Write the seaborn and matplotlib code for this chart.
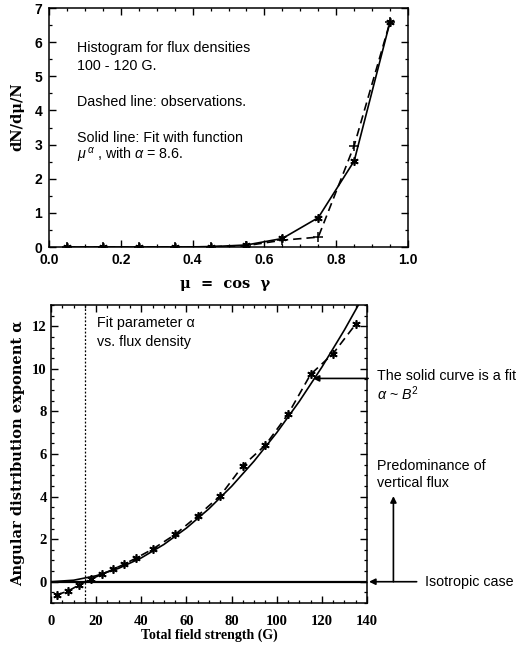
#
# Angular distribution of flux: histogram (top) and fit exponent alpha vs field strength (bottom)
#

import matplotlib
matplotlib.use('Agg')
import matplotlib.pyplot as plt
from matplotlib.ticker import MultipleLocator
import seaborn as sns

#%%
# Data

# top panel: histogram for flux densities 100 - 120 G
mu_bins = [0.05, 0.15, 0.25, 0.35, 0.45, 0.55, 0.65, 0.75, 0.85, 0.95]
fit_hist = [0.0, 0.0, 0.0, 0.001, 0.01, 0.06, 0.25, 0.86, 2.52, 6.60]
obs_hist = [0.0, 0.0, 0.0, 0.0, 0.01, 0.04, 0.20, 0.29, 2.97, 6.60]

# bottom panel: fit parameter alpha vs. flux density
field_obs = [2.5, 7.5, 12.5, 17.5, 22.5, 27.5, 32.5, 37.5, 45, 55, 65, 75,
             85, 95, 105, 115, 125, 135]
alpha_obs = [-0.62, -0.44, -0.15, 0.11, 0.35, 0.58, 0.83, 1.10, 1.53, 2.22,
             3.10, 4.04, 5.45, 6.42, 7.87, 9.74, 10.72, 12.10]
field_fit = [0, 10, 20, 30, 40, 50, 60, 70, 80, 90, 100, 110, 120, 130, 140]
alpha_fit = [0.0, 0.07, 0.28, 0.63, 1.12, 1.75, 2.52, 3.43, 4.48, 5.67,
             7.00, 8.47, 10.08, 11.83, 13.72]

#%%

sns.set_style('ticks')
plt.rcParams.update({
    'axes.edgecolor': 'black',
    'axes.linewidth': 1.1,
    'xtick.color': 'black',
    'ytick.color': 'black',
    'text.color': 'black',
    'axes.labelcolor': 'black',
    'xtick.direction': 'in',
    'ytick.direction': 'in',
    'xtick.top': True,
    'ytick.right': True,
    'xtick.major.size': 5,
    'ytick.major.size': 5,
    'xtick.minor.size': 2.5,
    'ytick.minor.size': 2.5,
    'xtick.major.width': 1.0,
    'ytick.major.width': 1.0,
    'xtick.minor.width': 0.9,
    'ytick.minor.width': 0.9,
    'mathtext.fontset': 'custom',
    'mathtext.rm': 'Liberation Sans',
    'mathtext.it': 'Liberation Sans:italic',
})
plt.rcParams['font.family'] = ['Liberation Sans', 'DejaVu Sans']

star = (6, 2, 0)
txt = dict(fontsize=10.3, family='Liberation Sans', va='center')

fig = plt.figure(figsize=(5.18, 6.47), dpi=100)
ax1 = fig.add_axes([0.0946, 0.6182, 0.6931, 0.3694])
ax2 = fig.add_axes([0.0985, 0.0680, 0.6100, 0.4606])

#
# Top: histogram
#

sns.lineplot(x=mu_bins, y=obs_hist, ax=ax1, color='black', lw=1.2,
             linestyle=(0, (5, 3)), marker='+', markersize=7,
             mew=1.1, mec='black')
sns.lineplot(x=mu_bins, y=fit_hist, ax=ax1, color='black', lw=1.2,
             marker=star, markersize=6, mew=1.2, mec='black')

ax1.set_xlim(0, 1)
ax1.set_ylim(0, 7)
ax1.xaxis.set_major_locator(MultipleLocator(0.2))
ax1.xaxis.set_minor_locator(MultipleLocator(0.05))
ax1.yaxis.set_major_locator(MultipleLocator(1))
ax1.yaxis.set_minor_locator(MultipleLocator(0.5))
ax1.xaxis.set_major_formatter(lambda v, p: f'{v:.1f}')
ax1.tick_params(axis='x', which='both', pad=4.3)
ax1.tick_params(axis='y', which='both', pad=5)
for lab in ax1.get_xticklabels() + ax1.get_yticklabels():
    lab.set_fontfamily('Liberation Sans')
    lab.set_fontweight('bold')
    lab.set_fontsize(10)

ax1.set_xlabel('μ  =  cos  γ', family='DejaVu Serif', fontweight='bold', fontsize=10.5)
ax1.set_ylabel('dN/dμ/N', family='DejaVu Serif', fontweight='bold', fontsize=10.5)
ax1.xaxis.set_label_coords(0.49, -0.124)
ax1.yaxis.set_label_coords(-0.068, 0.544)

ax1.text(0.078, 5.84, 'Histogram for flux densities', **txt)
ax1.text(0.078, 5.31, '100 - 120 G.', **txt)
ax1.text(0.078, 4.25, 'Dashed line: observations.', **txt)
ax1.text(0.078, 3.19, 'Solid line: Fit with function', **txt)
ax1.text(0.078, 2.69, r'$\mu^{\,\alpha}$ , with $\alpha$ = 8.6.', **txt)

#
# Bottom: alpha vs total field strength
#

ax2.axhline(0, color='black', lw=1.6)
ax2.axvline(15, color='black', lw=0.9, linestyle=(0, (1.5, 1.5)))
sns.lineplot(x=field_obs, y=alpha_obs, ax=ax2, color='black', lw=1.2,
             linestyle=(0, (5, 3)), marker=star, markersize=6,
             mew=1.2, mec='black')
sns.lineplot(x=field_fit, y=alpha_fit, ax=ax2, color='black', lw=1.2)

ax2.set_xlim(0, 140)
ax2.set_ylim(-1, 13)
ax2.xaxis.set_major_locator(MultipleLocator(20))
ax2.xaxis.set_minor_locator(MultipleLocator(5))
ax2.yaxis.set_major_locator(MultipleLocator(2))
ax2.yaxis.set_minor_locator(MultipleLocator(0.5))
ax2.tick_params(axis='x', which='both', pad=8.5)
ax2.tick_params(axis='y', which='both', pad=3)
for lab in ax2.get_xticklabels() + ax2.get_yticklabels():
    lab.set_fontfamily('Liberation Serif')
    lab.set_fontweight('bold')
    lab.set_fontsize(10.5)

ax2.set_xlabel('Total field strength (G)', family='Liberation Serif',
               fontweight='bold', fontsize=10)
ax2.set_ylabel('Angular distribution exponent α', family='DejaVu Serif',
               fontweight='bold', fontsize=10.5)
ax2.xaxis.set_label_coords(0.5, -0.084)
ax2.yaxis.set_label_coords(-0.082, 0.502)

ax2.text(20.2, 12.15, 'Fit parameter α', **txt)
ax2.text(20.2, 11.25, 'vs. flux density', **txt)

# Annotations outside the frame
arrow = dict(arrowstyle='-|>', color='black', lw=1.2, shrinkA=0, shrinkB=0,
             mutation_scale=9)
ax2.annotate('', xy=(116, 9.55), xytext=(140.5, 9.55),
             arrowprops=arrow, annotation_clip=False)
ax2.annotate('', xy=(140.9, 0), xytext=(162, 0),
             arrowprops=arrow, annotation_clip=False)
ax2.annotate('', xy=(151.7, 4.02), xytext=(151.7, 0),
             arrowprops=arrow, annotation_clip=False)

ax2.text(144.3, 9.66, 'The solid curve is a fit', clip_on=False, **txt)
ax2.text(144.3, 8.85, r'$\alpha$ ~ $B^2$', clip_on=False, **txt)
ax2.text(144.3, 5.02, 'Predominance of\nvertical flux', clip_on=False,
         linespacing=1.25, **txt)
ax2.text(165.7, 0, 'Isotropic case', clip_on=False, **txt)

fig.savefig('out.png', dpi=100)
